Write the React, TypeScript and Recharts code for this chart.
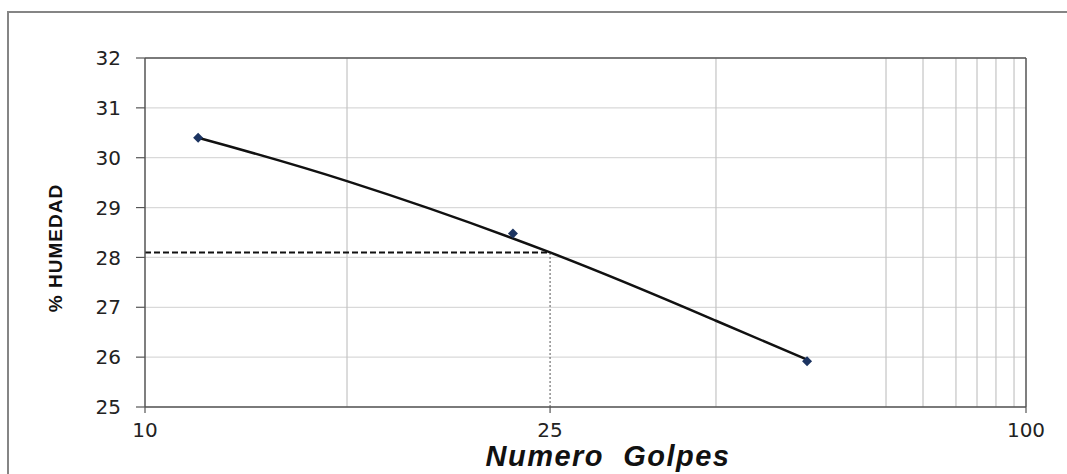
import React from 'react';
import {
  ComposedChart,
  Line,
  Scatter,
  XAxis,
  YAxis,
  CartesianGrid,
  ReferenceLine,
} from 'recharts';

// ---- data ----
const X_TICKS = [10, 25, 100];
const Y_TICKS = [25, 26, 27, 28, 29, 30, 31, 32];
const X_GRID = [20, 30, 40, 50, 60, 70, 80, 90];

// measured points: number of blows vs. moisture %
const BLOWS = [12, 24, 35];
const MOISTURE = [30.4, 28.48, 25.92];

// fitted curve
const CURVE_BLOWS = [12, 20, 25, 30, 35];
const CURVE_MOISTURE = [30.4, 29.53, 28.1, 26.73, 25.95];

// liquid-limit read at 25 blows
const LL_BLOWS = 25;
const LL_MOISTURE = 28.1;

const points = BLOWS.map((x, i) => ({ x, y: MOISTURE[i] }));
const curve = CURVE_BLOWS.map((x, i) => ({ x, y: CURVE_MOISTURE[i] }));

// The picture's x axis: logarithmic between each gridline, with the
// gridlines placed as the original chart shows them.
const SCALE_VALUES = [10, 20, 30, 40, 50, 60, 70, 80, 90, 100];
const SCALE_FRACTIONS = [0, 0.2293, 0.6481, 0.8411, 0.8831, 0.9205, 0.9444, 0.9659, 0.9864, 1];

function fractionOf(v: number): number {
  if (v <= SCALE_VALUES[0]) return 0;
  for (let i = 1; i < SCALE_VALUES.length; i++) {
    if (v <= SCALE_VALUES[i]) {
      const a = SCALE_VALUES[i - 1];
      const b = SCALE_VALUES[i];
      const t = Math.log(v / a) / Math.log(b / a);
      return SCALE_FRACTIONS[i - 1] + t * (SCALE_FRACTIONS[i] - SCALE_FRACTIONS[i - 1]);
    }
  }
  return 1;
}

function makeScale(domainIn: number[] = [10, 100], rangeIn: number[] = [0, 1]): any {
  let domain = domainIn.slice();
  let range = rangeIn.slice();
  const s: any = (v: number) => range[0] + fractionOf(v) * (range[1] - range[0]);
  s.domain = (d?: number[]) => {
    if (d === undefined) return domain.slice();
    domain = Array.from(d);
    return s;
  };
  s.range = (r?: number[]) => {
    if (r === undefined) return range.slice();
    range = Array.from(r);
    return s;
  };
  s.copy = () => makeScale(domain, range);
  s.ticks = () => X_TICKS.slice();
  s.tickFormat = () => (v: number) => String(v);
  return s;
}

const xScale = makeScale();

const FONT = '"DejaVu Sans", "Liberation Sans", Arial, sans-serif';

const Diamond = (props: any) => {
  const { cx, cy } = props;
  if (cx == null || cy == null) return null;
  const r = 5;
  return (
    <polygon
      points={`${cx},${cy - r} ${cx + r},${cy} ${cx},${cy + r} ${cx - r},${cy}`}
      fill="#1c3461"
    />
  );
};

const XTitle = () => (
  <text
    x={608}
    y={466}
    textAnchor="middle"
    fontFamily='"Liberation Sans", Arial, sans-serif'
    fontWeight="bold"
    fontStyle="italic"
    fontSize={29}
    letterSpacing={1.5}
    fill="#111"
    style={{ whiteSpace: 'pre' }}
  >
    {'Numero  Golpes'}
  </text>
);

const YTitle = () => (
  <text
    x={55}
    y={248}
    textAnchor="middle"
    dominantBaseline="central"
    transform="rotate(-90 55 248)"
    fontFamily='"Liberation Sans", Arial, sans-serif'
    fontWeight="bold"
    fontSize={19}
    letterSpacing={1}
    fill="#111"
  >
    % HUMEDAD
  </text>
);

export default function App() {
  return (
    <div style={{ position: 'absolute', left: 0, top: 0, width: 1067, height: 474, overflow: 'hidden', background: '#fff' }}>
      <div
        style={{
          position: 'absolute',
          left: 7,
          top: 11,
          width: 1060,
          height: 463,
          boxSizing: 'border-box',
          borderLeft: '2px solid #858585',
          borderTop: '2px solid #858585',
        }}
      />
      <div style={{ position: 'absolute', left: 0, top: 0 }}>
        <ComposedChart width={1067} height={474} margin={{ top: 58, right: 41, bottom: 0, left: 0 }}>
          <CartesianGrid vertical={false} stroke="#d9d9d9" strokeWidth={1.2} />
          {X_GRID.map((v) => (
            <ReferenceLine key={v} x={v} stroke="#c4c4c4" strokeWidth={1.2} />
          ))}
          <ReferenceLine y={32} stroke="#555" strokeWidth={1.5} />
          <ReferenceLine x={100} stroke="#555" strokeWidth={1.5} />
          <XAxis
            dataKey="x"
            type="number"
            scale={xScale}
            domain={[10, 100]}
            ticks={X_TICKS}
            allowDataOverflow
            height={67}
            axisLine={{ stroke: '#555', strokeWidth: 1.5 }}
            tickLine={{ stroke: '#555', strokeWidth: 1.2 }}
            tickSize={6}
            tickMargin={10}
            tick={{ fill: '#222', fontSize: 20, fontFamily: FONT }}
            label={{ content: () => <XTitle /> }}
          />
          <YAxis
            type="number"
            domain={[25, 32]}
            ticks={Y_TICKS}
            allowDataOverflow
            width={145}
            axisLine={{ stroke: '#555', strokeWidth: 1.5 }}
            tickLine={{ stroke: '#555', strokeWidth: 1.2 }}
            tickSize={9}
            tickMargin={15}
            tick={{ fill: '#222', fontSize: 20, fontFamily: FONT }}
            label={{ content: () => <YTitle /> }}
          />
          <ReferenceLine
            segment={[{ x: 10, y: LL_MOISTURE }, { x: LL_BLOWS, y: LL_MOISTURE }]}
            stroke="#111"
            strokeWidth={2}
            strokeDasharray="6 3"
          />
          <ReferenceLine
            segment={[{ x: LL_BLOWS, y: 25 }, { x: LL_BLOWS, y: LL_MOISTURE }]}
            stroke="#555"
            strokeWidth={1}
            strokeDasharray="2 2"
          />
          <Line
            data={curve}
            dataKey="y"
            type="natural"
            stroke="#111"
            strokeWidth={2.5}
            dot={false}
            activeDot={false}
            isAnimationActive={false}
          />
          <Scatter data={points} dataKey="y" shape={<Diamond />} isAnimationActive={false} />
        </ComposedChart>
      </div>
    </div>
  );
}
